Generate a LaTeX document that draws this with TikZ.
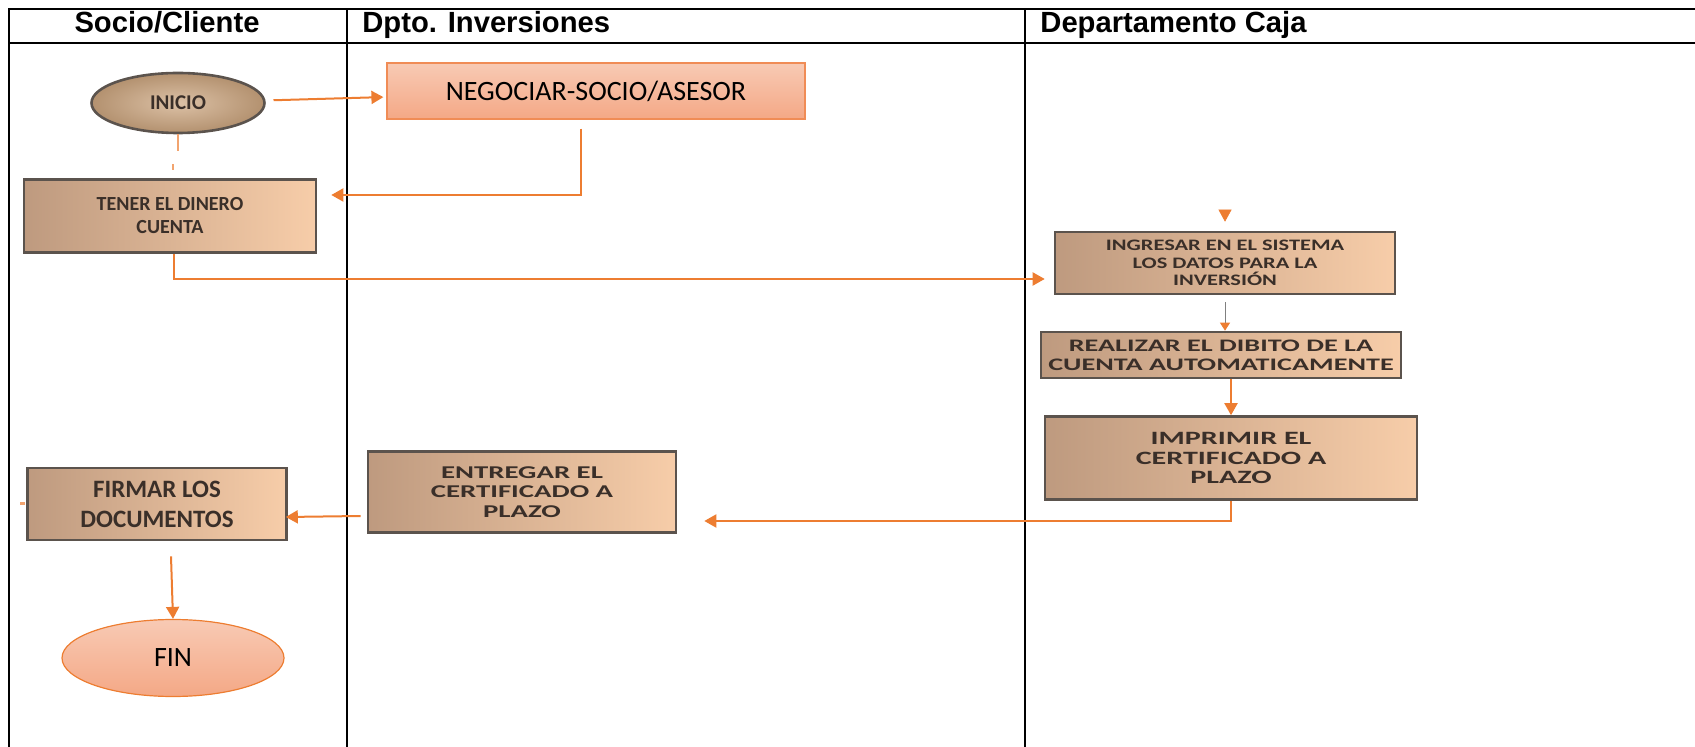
\documentclass[tikz,border=0pt]{standalone}
\usepackage{fontspec}
\setmainfont{Liberation Sans}
\newfontfamily\calibri{Carlito}
\newfontfamily\calibriancho[FakeStretch=1.4]{Carlito}
\newfontfamily\calibrimuyancho[FakeStretch=1.6]{Carlito}
\usetikzlibrary{arrows.meta, positioning, shapes.geometric, calc}
\definecolor{naranja}{HTML}{ED7D31}
\definecolor{salmonclaro}{HTML}{F8CAB4}
\definecolor{salmon}{HTML}{F4A886}
\definecolor{bordesalmon}{HTML}{F08C56}
\definecolor{tostado}{HTML}{BE9A7F}
\definecolor{durazno}{HTML}{F7CDA9}
\definecolor{tostadoclaro}{HTML}{DCC1A6}
\definecolor{tostadooscuro}{HTML}{B3916F}
\definecolor{bordecafe}{HTML}{5B534D}
\definecolor{textocafe}{HTML}{3A2F29}
\tikzset{
  caja/.style={rectangle, draw=bordecafe, line width=1.3pt, left color=tostado,
    right color=durazno, text=textocafe, align=center, inner sep=1mm},
  cajasalmon/.style={rectangle, draw=bordesalmon, line width=0.6pt, top color=salmonclaro,
    bottom color=salmon, text=black, align=center, font=\calibri\fontsize{14}{16}\selectfont},
  inicio/.style={ellipse, draw=bordecafe, line width=1.3pt, inner color=tostadoclaro,
    outer color=tostadooscuro, text=textocafe, inner sep=0pt,
    font=\calibri\bfseries\fontsize{10.5}{12}\selectfont},
  fin/.style={ellipse, draw=naranja, line width=0.6pt, top color=salmonclaro,
    bottom color=salmon, inner sep=0pt, font=\calibri\fontsize{14}{16}\selectfont},
  flecha/.style={-{Triangle[length=6pt, width=6.5pt]}, line width=1pt, color=naranja},
  flechagris/.style={-{Triangle[length=4pt, width=5pt, color=naranja]}, line width=0.5pt, color=gray},
  trazo/.style={line width=0.8pt, color=naranja!70},
  carril/.style={line width=1pt},
  titulo/.style={font=\bfseries\fontsize{14.6}{18}\selectfont, inner sep=0pt},
}

\begin{document}
\begin{tikzpicture}[x=0.5pt, y=-0.5pt]
  \useasboundingbox (0,0) rectangle (1695,747);
  % Carriles
  \draw[carril] (9,747) -- (9,9) -- (1695,9);
  \draw[line width=1.3pt] (9,43) -- (1695,43);
  \draw[carril] (347,9) -- (347,747);
  \draw[carril] (1025,9) -- (1025,747);
  \node[titulo, anchor=base] (tcliente) at (167,33) {Socio/Cliente};
  \node[titulo, anchor=base west] (tinversiones) at (362,33) {Dpto. Inversiones};
  \node[titulo, anchor=base west] (tcaja) at (1040,33) {Departamento Caja};

  % Actividades
  \node[inicio, minimum width=86.5pt, minimum height=30pt] (ini) at (178,103) {INICIO};
  \node[cajasalmon, minimum width=209pt, minimum height=28pt] (neg) at (596,91) {NEGOCIAR-SOCIO/ASESOR};
  \node[caja, minimum width=146pt, minimum height=36.5pt, font=\calibri\bfseries\fontsize{10}{11.5}\selectfont]
    (tener) at (170,216) {TENER EL DINERO\\ CUENTA};
  \node[caja, minimum width=170pt, minimum height=31pt, font=\calibriancho\bfseries\fontsize{8}{8.9}\selectfont]
    (ingresar) at (1225,263) {INGRESAR EN EL SISTEMA\\ LOS DATOS PARA LA\\ INVERSIÓN};
  \node[caja, minimum width=180pt, minimum height=23pt, font=\calibrimuyancho\bfseries\fontsize{8.8}{9.7}\selectfont]
    (realizar) at (1221,355) {REALIZAR EL DIBITO DE LA\\ CUENTA AUTOMATICAMENTE};
  \node[caja, minimum width=186pt, minimum height=41.5pt, font=\calibrimuyancho\bfseries\fontsize{9.4}{9.6}\selectfont]
    (imprimir) at (1231,458) {IMPRIMIR EL\\ CERTIFICADO A\\ PLAZO};
  \node[caja, minimum width=154pt, minimum height=40.5pt, font=\calibrimuyancho\bfseries\fontsize{9}{9.7}\selectfont]
    (entregar) at (522,492) {ENTREGAR EL\\ CERTIFICADO A\\ PLAZO};
  \node[caja, minimum width=129.5pt, minimum height=36pt, font=\calibri\bfseries\fontsize{12.5}{15}\selectfont]
    (firmar) at (157,504) {FIRMAR LOS\\ DOCUMENTOS};
  \node[fin, minimum width=111pt, minimum height=38.5pt] (fin) at (173,658) {FIN};

  % Flujo
  \draw[flecha, shorten <=4pt, shorten >=1.5pt] (ini) -- (neg);
  \draw[flecha] ($(neg.south)+(-15,9)$) |- ($(tener.east)+(14,-21)$);
  \draw[flecha] ($(tener.south)+(4,0)$) |- ($(ingresar.west)+(-9,16)$);
  \draw[flechagris] ($(ingresar.south)+(0,7)$) -- (ingresar.south |- realizar.north);
  \draw[flecha] (realizar.south -| imprimir.north) -- (imprimir.north);
  \draw[flecha] (imprimir.south) |- ($(entregar.east)+(27,29)$);
  \draw[flecha] ($(entregar.west)+(-6,24)$) -- ($(firmar.east)+(-2,13)$);
  \draw[flecha] ($(firmar.south)+(14,15)$) -- (fin.north);

  % Restos de conectores
  \draw[trazo] (ini.south) -- ++(0,17);
  \draw[trazo] ($(tener.north)+(3,-14)$) -- ++(0,6);
  \draw[flecha, line width=0.3pt] ($(ingresar.north)+(0,-18)$) -- ($(ingresar.north)+(0,-9)$);
  \draw[trazo, line width=1.5pt] ($(firmar.west)+(-1,0)$) -- ++(-5,0);
\end{tikzpicture}
\end{document}
